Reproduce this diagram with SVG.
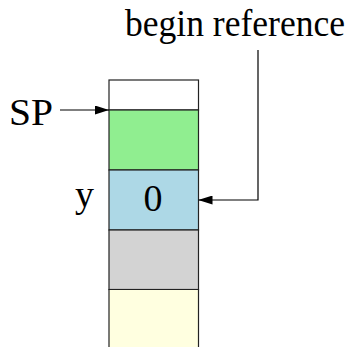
<svg xmlns="http://www.w3.org/2000/svg" width="360" height="347" viewBox="0 0 360 347">
<defs>
<marker id="ah" markerWidth="14" markerHeight="9" refX="14" refY="4.5" orient="auto" markerUnits="userSpaceOnUse">
<path d="M0,0 L14,4.5 L0,9 Z" fill="#000"/>
</marker>
</defs>
<style>
.cell{stroke:#222;stroke-width:1.2}
.t{font-size:38px;fill:#000}
.c{fill:none;stroke:#000;stroke-width:1.2}
</style>
<rect width="360" height="347" fill="#fff"/>
<g id="stack">
<g id="cell-top"><rect class="cell" x="109" y="80" width="89.5" height="30" fill="#fff"/></g>
<g id="cell-green"><rect class="cell" x="109" y="110" width="89.5" height="60" fill="#90EE90"/></g>
<g id="cell-blue"><rect class="cell" x="109" y="170" width="89.5" height="60" fill="#ADD8E6"/><text class="t" font-family="'Liberation Serif', 'Times New Roman', serif" x="153" y="211" text-anchor="middle">0</text></g>
<g id="cell-gray"><rect class="cell" x="109" y="230" width="89.5" height="59.5" fill="#D3D3D3"/></g>
<g id="cell-yellow"><path class="cell" d="M109,349 V289.5 H198.5 V349" fill="#FFFFE0"/></g>
</g>
<g id="label-sp"><text class="t" font-family="'Liberation Serif', 'Times New Roman', serif" x="9" y="125" textLength="44" lengthAdjust="spacingAndGlyphs">SP</text></g>
<g id="label-y"><text class="t" font-family="'Liberation Serif', 'Times New Roman', serif" x="75" y="207">y</text></g>
<g id="label-begin"><text class="t" font-family="'Liberation Serif', 'Times New Roman', serif" x="345" y="36" text-anchor="end" textLength="220" lengthAdjust="spacingAndGlyphs">begin reference</text></g>
<g id="connectors">
<path class="c" d="M60,110 H109" marker-end="url(#ah)"/>
<path class="c" d="M258,50 V200 H198.5" marker-end="url(#ah)"/>
</g>
</svg>
